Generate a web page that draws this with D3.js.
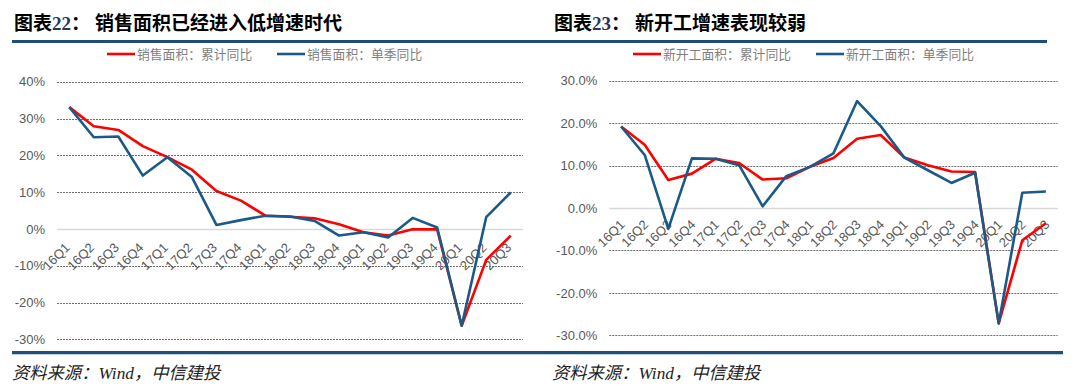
<!DOCTYPE html>
<html>
<head>
<meta charset="utf-8">
<title></title>
<script src="https://cdn.jsdelivr.net/npm/d3@7"></script>
<style>
  body { margin: 0; background: #fff; }
  svg { display: block; }
</style>
</head>
<body>
<script>
const width = 1080
const height = 388

// 季度
const quarters = ['16Q1','16Q2','16Q3','16Q4','17Q1','17Q2','17Q3','17Q4','18Q1','18Q2',
                  '18Q3','18Q4','19Q1','19Q2','19Q3','19Q4','20Q1','20Q2','20Q3']

// 销售面积 (%)
const salesCum = [33.1, 27.9, 26.9, 22.5, 19.5, 16.1, 10.3, 7.7, 3.6, 3.3,
                  2.9, 1.3, -0.9, -1.8, -0.1, -0.1, -26.3, -8.4, -1.8]
const salesQtr = [33.1, 24.9, 25.1, 14.5, 19.5, 14.1, 1.1, 2.4, 3.6, 3.4,
                  2.2, -1.8, -0.9, -2.3, 3.0, 0.4, -26.3, 3.2, 9.9]

// 新开工面积 (%)
const startCum = [19.2, 14.9, 6.6, 8.1, 11.6, 10.6, 6.7, 7.0, 9.7, 11.8,
                  16.3, 17.2, 11.9, 10.1, 8.6, 8.5, -27.2, -7.6, -3.6]
const startQtr = [19.2, 12.5, -4.9, 11.7, 11.6, 10.1, 0.4, 7.5, 9.7, 12.9,
                  25.2, 19.3, 11.9, 8.9, 5.9, 8.3, -27.2, 3.6, 3.9]

const leftTicks = [40, 30, 20, 10, 0, -10, -20, -30]
const rightTicks = [30, 20, 10, 0, -10, -20, -30]

const red = '#ff0000'
const blue = '#1b5a87'

const svg = d3.select('body').append('svg')
  .attr('width', width)
  .attr('height', height)

// 顶部和底部的蓝线
svg.append('rect').attr('x', 12).attr('y', 40).attr('width', 1035).attr('height', 3).attr('fill', '#1f4e79')
svg.append('rect').attr('x', 12).attr('y', 351).attr('width', 1051).attr('height', 3).attr('fill', '#1f4e79')
svg.append('rect').attr('x', 12).attr('y', 354).attr('width', 1051).attr('height', 1).attr('fill', '#bdd0e3')

function drawPanel(cfg) {
  const g = svg.append('g')

  // 标题
  const title = g.append('text')
    .attr('x', cfg.titleX).attr('y', 30)
    .attr('font-family', '"Noto Sans CJK SC"')
    .attr('font-weight', 'bold')
    .attr('font-size', 19)
    .attr('fill', '#000')
  title.append('tspan').text('图表')
  title.append('tspan').attr('font-family', '"Liberation Serif"').attr('fill', '#1f3864').text(cfg.num)
  title.append('tspan').text('：')
  g.append('text')
    .attr('x', cfg.titleX + 81).attr('y', 30)
    .attr('font-family', '"Noto Sans CJK SC"')
    .attr('font-weight', 'bold')
    .attr('font-size', 19)
    .text(cfg.title)

  const x = d3.scaleBand().domain(quarters).range(cfg.xRange)
  const y = d3.scaleLinear().domain(cfg.yDomain).range(cfg.yRange)

  // 网格线
  const yAxis = d3.axisLeft(y)
    .tickValues(cfg.ticks)
    .tickSize(0)
    .tickPadding(0)
    .tickFormat(cfg.fmt)
  const ya = g.append('g')
    .attr('transform', `translate(${cfg.xRange[0] - cfg.labelGap},0)`)
    .call(yAxis)
  ya.select('.domain').remove()
  ya.selectAll('text')
    .attr('font-family', 'Liberation Sans, Arial')
    .attr('font-size', 13)
    .attr('fill', '#595959')

  g.selectAll('.grid').data(cfg.ticks.filter(d => d !== 0)).join('line')
    .attr('x1', cfg.xRange[0]).attr('x2', cfg.xRange[1])
    .attr('y1', d => Math.round(y(d)) + 0.5).attr('y2', d => Math.round(y(d)) + 0.5)
    .attr('stroke', '#6f6f6f')
    .attr('stroke-width', 1)
    .attr('stroke-dasharray', '2,1')

  g.append('line')
    .attr('x1', cfg.xRange[0]).attr('x2', cfg.xRange[1])
    .attr('y1', Math.round(y(0)) + 0.5).attr('y2', Math.round(y(0)) + 0.5)
    .attr('stroke', '#d9d9d9')
    .attr('stroke-width', 1.5)

  // x轴标签
  const xAxis = d3.axisBottom(x).tickSize(0).tickPadding(0)
  const xa = g.append('g')
    .attr('transform', `translate(0,${y(0)})`)
    .call(xAxis)
  xa.select('.domain').remove()
  xa.selectAll('text')
    .attr('font-family', 'Liberation Sans, Arial')
    .attr('font-size', 13)
    .attr('fill', '#595959')
    .attr('text-anchor', 'end')
    .attr('dy', null)
    .attr('y', 0)
    .attr('transform', `translate(${cfg.lblOff[0]},${cfg.lblOff[1]}) rotate(-45)`)
    .attr('dominant-baseline', 'middle')

  const line = d3.line()
    .x((d, i) => x(quarters[i]) + x.bandwidth() / 2)
    .y(d => y(d))

  g.append('path').datum(cfg.cum)
    .attr('d', line).attr('fill', 'none')
    .attr('stroke', red).attr('stroke-width', 2.6)
    .attr('stroke-linejoin', 'round')
  g.append('path').datum(cfg.qtr)
    .attr('d', line).attr('fill', 'none')
    .attr('stroke', blue).attr('stroke-width', 2.6)
    .attr('stroke-linejoin', 'round')

  // 图例
  const lg = g.append('g')
  cfg.legend.forEach((item, i) => {
    lg.append('line')
      .attr('x1', item.x).attr('x2', item.x + 28)
      .attr('y1', 54).attr('y2', 54)
      .attr('stroke', item.color).attr('stroke-width', 2.6)
    lg.append('text')
      .attr('x', item.x + 30).attr('y', 58.5)
      .attr('font-family', '"Noto Sans CJK SC"')
      .attr('font-size', 12.8)
      .attr('fill', '#7f7f7f')
      .text(item.label)
  })

  // 资料来源
  g.append('text')
    .attr('x', cfg.titleX - 2).attr('y', 379)
    .attr('font-family', '"Liberation Serif", "Noto Sans CJK SC"')
    .attr('font-style', 'italic')
    .attr('font-size', 17.3)
    .attr('fill', '#222')
    .text('资料来源：Wind，中信建投')
}

drawPanel({
  titleX: 14, num: '22', title: '销售面积已经进入低增速时代',
  xRange: [57, 523], yDomain: [-30, 40], yRange: [339.4, 81.7],
  ticks: leftTicks, fmt: d => d + '%', labelGap: 12, lblOff: [-1, 17],
  cum: salesCum, qtr: salesQtr,
  legend: [
    { x: 107, color: red, label: '销售面积：累计同比' },
    { x: 277, color: blue, label: '销售面积：单季同比' }
  ]
})

drawPanel({
  titleX: 554, num: '23', title: '新开工增速表现较弱',
  xRange: [609.3, 1057.7], yDomain: [-30, 30], yRange: [335.3, 80.7],
  ticks: rightTicks, fmt: d => d.toFixed(1) + '%', labelGap: 12, lblOff: [2, 15],
  cum: startCum, qtr: startQtr,
  legend: [
    { x: 633, color: red, label: '新开工面积：累计同比' },
    { x: 816, color: blue, label: '新开工面积：单季同比' }
  ]
})
</script>
</body>
</html>
